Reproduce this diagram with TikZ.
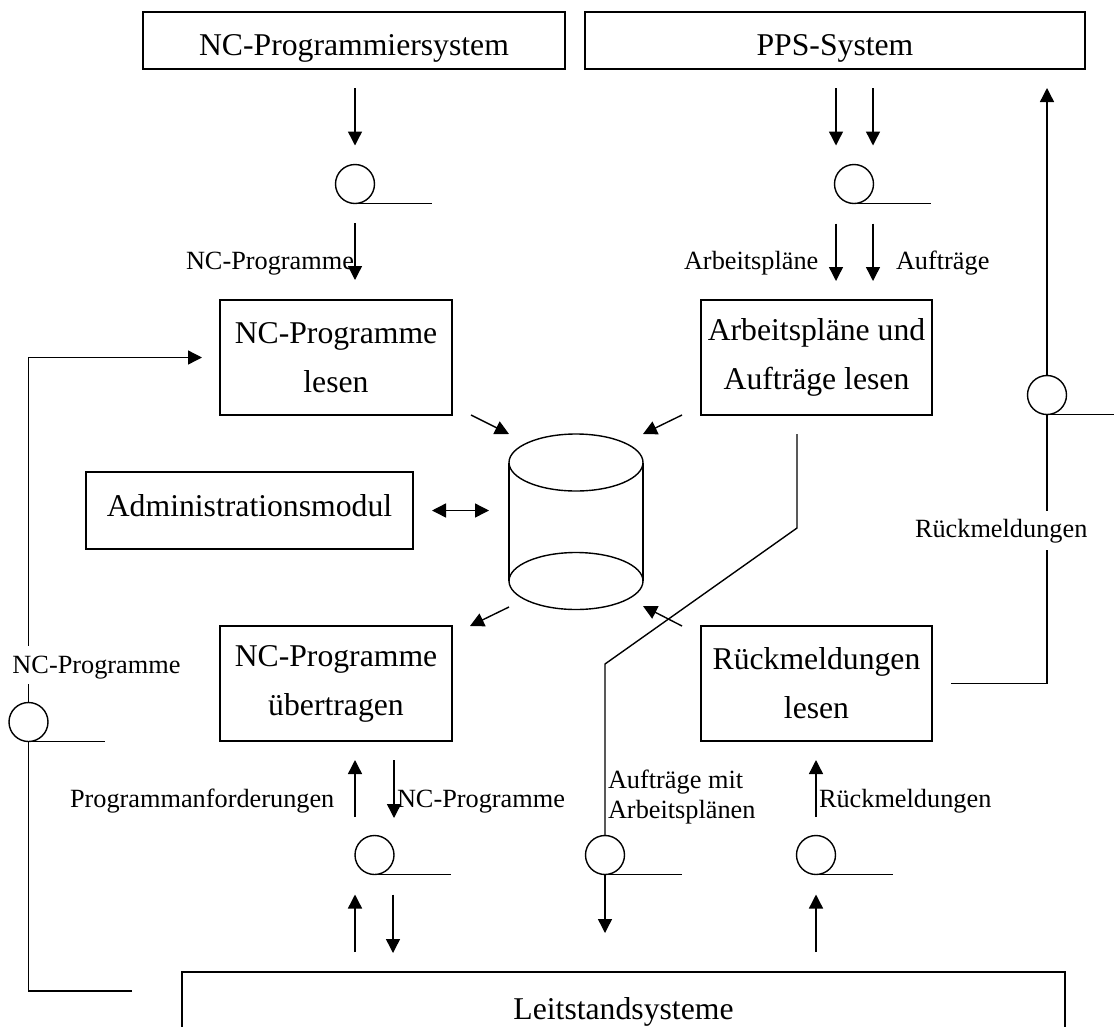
\documentclass[tikz,border=0pt]{standalone}
\usepackage{fontspec}
\setmainfont{Liberation Serif}
\usetikzlibrary{arrows.meta}
\begin{document}
\begin{tikzpicture}[x=1pt,y=-1pt,
  every node/.style={inner sep=0pt,outer sep=0pt},
  flow/.style={line width=1.4pt},
  arr/.style={flow,-{Triangle[length=14pt,width=14pt]}},
  biarr/.style={flow,{Triangle[length=14pt,width=14pt]}-{Triangle[length=14pt,width=14pt]}},
  box/.style={draw,line width=1.4pt,font=\fontsize{31.7}{49}\selectfont,align=center},
  lbl/.style={font=\fontsize{26.3}{30}\selectfont,anchor=base west,align=left},
  store/.style={draw,line width=1.4pt,circle,minimum size=39pt}
]
\useasboundingbox (0,0) rectangle (1114,1026);

% ---- external systems and processes
\node[box,minimum width=422pt,minimum height=57pt,text height=29pt,text depth=0pt] (nps) at (354,40.5) {NC-Programmiersystem};
\node[box,minimum width=500pt,minimum height=57pt,text height=29pt,text depth=0pt] (pps) at (835,40.5) {PPS-System};
\node[box,minimum width=232pt,minimum height=115pt] (ncl) at (336,357.5) {NC-Programme\\lesen};
\node[box,minimum width=231pt,minimum height=115pt] (apl) at (816.5,357.5) {Arbeitspläne und\\Aufträge lesen};
\node[box,minimum width=327pt,minimum height=77pt,text height=22pt,text depth=11pt] (adm) at (249.5,510.5) {Administrationsmodul};
\node[box,minimum width=232pt,minimum height=115pt] (ncu) at (336,683.5) {NC-Programme\\übertragen};
\node[box,minimum width=231pt,minimum height=115pt] (rml) at (816.5,683.5) {Rückmeldungen\\lesen};
\node[box,minimum width=883pt,minimum height=72pt,text height=22pt,text depth=0pt] (lst) at (623.5,1008) {Leitstandsysteme};

% ---- database cylinder
\coordinate (dbtop) at (576,462.5);
\coordinate (dbbot) at (576,581);
\draw[flow] (dbtop) ellipse [x radius=67pt,y radius=28.5pt];
\draw[flow] (dbbot) ellipse [x radius=67pt,y radius=28.5pt];
\draw[flow] ([xshift=-67pt]dbtop) -- ([xshift=-67pt]dbbot)
            ([xshift=67pt]dbtop) -- ([xshift=67pt]dbbot);
\coordinate (db-nw) at (509,434);
\coordinate (db-ne) at (643,434);
\coordinate (db-w)  at (509,510.5);
\coordinate (db-sw) at (509,607);
\coordinate (db-se) at (643,606);

% ---- message queues (circle with tangent line)
\node[store] (s1) at (355,184) {};
\node[store] (s2) at (854,184) {};
\node[store] (s3) at (374.5,855) {};
\node[store] (s4) at (605,855) {};
\node[store] (s5) at (816,855) {};
\node[store] (s6) at (1047,395) {};
\node[store] (s7) at (28.5,722) {};
\foreach \s/\len in {s1/77,s2/77,s3/76.5,s4/77,s5/77,s6/70,s7/76.5}
  \draw[flow] (\s.south) -- ++(\len,0);

% ---- labels
\node[lbl] (l1) at (186,269) {NC-Programme};
\node[lbl] (l2) at (684,269) {Arbeitspläne};
\node[lbl] (l3) at (896,269) {Aufträge};
\node[lbl] (lrm) at (915,537) {Rückmeldungen};
\node[lbl] (lncl) at (12.5,673) {NC-Programme};
\node[lbl] (l6) at (70,807) {Programmanforderungen};
\node[lbl] (l7) at (397,807) {NC-Programme};
\node[lbl] (l8) at (608,818) {Aufträge mit\\Arbeitsplänen};
\node[lbl] (l9) at (819,807) {Rückmeldungen};

% ---- NC programs path
\draw[arr,shorten <=19pt,shorten >=19pt] (nps.south -| s1) -- (s1.north);
\draw[arr,shorten <=19.5pt,shorten >=20pt] (s1.south) -- (ncl.north -| s1);

% ---- work plans and orders
\draw[arr,shorten <=19pt,shorten >=19pt] ([xshift=-18pt]s2.north |- pps.south) -- ([xshift=-18pt]s2.north);
\draw[arr,shorten <=19pt,shorten >=19pt] ([xshift=19pt]s2.north |- pps.south) -- ([xshift=19pt]s2.north);
\draw[arr,shorten <=20pt,shorten >=19pt] ([xshift=-18pt]s2.south) -- ([xshift=-18pt]s2.south |- apl.north);
\draw[arr,shorten <=20pt,shorten >=19pt] ([xshift=19pt]s2.south) -- ([xshift=19pt]s2.south |- apl.north);

% ---- database access
\draw[arr] ([xshift=19pt]ncl.south east) -- (db-nw);
\draw[arr] ([xshift=-19pt]apl.south west) -- (db-ne);
\draw[biarr,shorten <=19pt,shorten >=20pt] (adm.east) -- (db-w);
\draw[arr] (db-sw) -- ([xshift=18pt]ncu.north east);
\draw[arr] ([xshift=-19pt]rml.north west) -- (db-se);

% ---- returned NC programs loop on the left
\coordinate (loopL) at (132,991);
\draw[flow] (loopL) -| (s7.south);
\draw[flow] (s7.north) -- ([yshift=-5pt]lncl.south -| s7);
\draw[arr,shorten >=18pt] ([yshift=10pt]lncl.north -| s7) |- (ncl.west);

% ---- orders with work plans to the control stations
\draw[flow] ([xshift=-19.5pt,yshift=-19pt]apl.south) -- ++(0,94) -- ++(-192,136) -- (s4.north);
\draw[arr] (s4.south) -- ([yshift=39pt]lst.north -| s4);

% ---- feedback to the PPS system
\draw[flow,shorten <=19pt] (rml.east) -- (rml.east -| s6) -- ([yshift=-7pt]lrm.south -| s6);
\draw[flow] ([yshift=8pt]lrm.north -| s6) -- (s6.south);
\draw[arr] (s6.north) -- ([yshift=-19pt]pps.south -| s6);

% ---- program requests and transfers
\draw[arr,shorten <=20pt,shorten >=20pt] ([xshift=-19.5pt]s3.south |- lst.north) -- ([xshift=-19.5pt]s3.south);
\draw[arr,shorten <=20pt,shorten >=19pt] ([xshift=18.5pt]s3.south) -- ([xshift=18.5pt]s3.south |- lst.north);
\draw[arr,shorten <=18.5pt,shorten >=19pt] ([xshift=-19.5pt]s3.north) -- ([xshift=-19.5pt]s3.north |- ncu.south);
\draw[arr,shorten <=19pt,shorten >=17.5pt] ([xshift=19.5pt]s3.north |- ncu.south) -- ([xshift=19.5pt]s3.north);

% ---- feedback from the control stations
\draw[arr,shorten <=20pt,shorten >=20pt] (s5.south |- lst.north) -- (s5.south);
\draw[arr,shorten <=18.5pt,shorten >=19pt] (s5.north) -- (s5.north |- rml.south);
\end{tikzpicture}
\end{document}
